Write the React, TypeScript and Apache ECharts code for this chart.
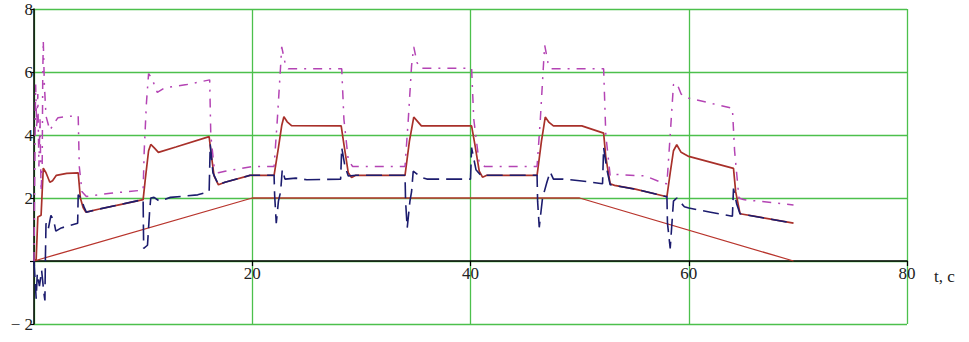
import React, { useEffect, useRef } from "react";
import * as echarts from "echarts";

// axis settings (Mathcad-style plot)
const xTicks = [0, 20, 40, 60, 80];
const yTicks = [-2, 0, 2, 4, 6, 8];

// setpoint ramp (red, solid)
const setpoint: [number, number][] = [
  [0, 0], [20, 2], [50, 2], [69.6, 0],
];

// main response (dark red, solid)
const response: [number, number][] = [
  [0, 0], [0.2, 0.05], [0.35, 1.4], [0.65, 1.45], [0.75, 2.2], [0.85, 2.95], [1.1, 2.8], [1.45, 2.5],
  [1.7, 2.55], [2.05, 2.72], [3.0, 2.78], [4.05, 2.8], [4.25, 2.0], [4.5, 1.7], [4.75, 1.55],
  [6, 1.65], [8, 1.8], [10.0, 1.95], [10.2, 2.6], [10.5, 3.5], [10.7, 3.7], [11.0, 3.6],
  [11.4, 3.45], [13, 3.62], [16.05, 3.95], [16.2, 3.5], [16.5, 2.7], [16.9, 2.42], [17.5, 2.5],
  [19.8, 2.72], [22.0, 2.72], [22.4, 3.6], [22.7, 4.3], [22.9, 4.58], [23.2, 4.42], [23.6, 4.3],
  [28.15, 4.29], [28.4, 3.7], [28.8, 2.8], [29.1, 2.65], [29.5, 2.72], [34.0, 2.72], [34.4, 3.8],
  [34.8, 4.57], [35.1, 4.45], [35.5, 4.29], [40.1, 4.29], [40.4, 3.7], [40.8, 2.85], [41.1, 2.66],
  [41.5, 2.72], [46.1, 2.72], [46.5, 3.8], [46.85, 4.57], [47.2, 4.4], [47.6, 4.29], [50.2, 4.29],
  [52.2, 4.06], [52.4, 3.3], [52.8, 2.45], [53.2, 2.4], [55.1, 2.28], [58.0, 2.04], [58.3, 2.8],
  [58.6, 3.5], [58.9, 3.69], [59.3, 3.45], [60.0, 3.32], [64.1, 2.94], [64.3, 2.2], [64.7, 1.5],
  [69.6, 1.2],
];

// second variable (navy, dashed)
const navy: [number, number][] = [
  [0, 0], [0.1, -0.6], [0.2, -1.2], [0.3, -0.4], [0.5, -0.8], [0.7, -0.3], [0.9, -1.0], [1.0, -1.25],
  [1.05, 0.2], [1.1, 1.2], [1.3, 1.0], [1.55, 1.45], [1.8, 1.3], [2.0, 0.95], [2.5, 1.05], [4.0, 1.2],
  [4.05, 2.1], [4.3, 2.0], [4.6, 1.7], [4.8, 1.55], [6, 1.65], [8, 1.8], [10.0, 1.95], [10.05, 0.4],
  [10.4, 0.5], [10.6, 1.6], [10.7, 2.0], [11.0, 2.02], [11.5, 1.9], [12.5, 2.02], [15, 2.1],
  [16.05, 2.2], [16.15, 3.7], [16.4, 2.8], [16.9, 2.42], [17.5, 2.5], [19.8, 2.72], [22.0, 2.72],
  [22.05, 2.1], [22.2, 1.2], [22.4, 1.9], [22.6, 2.2], [22.75, 2.9], [23.0, 2.6], [24, 2.63],
  [25, 2.58], [28.1, 2.6], [28.2, 3.6], [28.5, 3.0], [28.8, 2.7], [29.5, 2.72], [34.0, 2.72],
  [34.05, 1.9], [34.2, 1.05], [34.45, 1.9], [34.6, 2.2], [34.75, 2.85], [35.5, 2.65], [36, 2.6],
  [40.0, 2.6], [40.1, 3.6], [40.5, 2.9], [41.0, 2.7], [41.5, 2.72], [46.1, 2.72], [46.15, 1.9],
  [46.3, 1.07], [46.6, 2.0], [47.0, 2.5], [47.3, 2.83], [47.6, 2.6], [48.5, 2.6], [50, 2.55],
  [52.1, 2.45], [52.2, 3.6], [52.5, 2.9], [52.8, 2.42], [55.1, 2.28], [58.0, 2.04], [58.05, 1.2],
  [58.3, 0.4], [58.6, 1.9], [58.9, 2.0], [59.6, 1.72], [60, 1.68], [62, 1.55], [64.0, 1.42],
  [64.1, 2.3], [64.4, 1.8], [64.7, 1.5], [69.6, 1.2],
];

// third variable (magenta, dash-dot)
const magenta: [number, number][] = [
  [0, 0], [0.05, 2.0], [0.1, 4.0], [0.15, 5.6], [0.25, 4.2], [0.35, 5.3], [0.45, 3.0], [0.55, 4.5],
  [0.65, 2.2], [0.75, 3.0], [0.8, 5.8], [0.85, 7.0], [0.95, 5.6], [1.1, 4.6], [1.45, 4.15],
  [1.8, 4.35], [2.2, 4.55], [3.5, 4.6], [4.05, 4.62], [4.15, 3.0], [4.4, 2.2], [4.8, 2.05],
  [7, 2.15], [10.0, 2.25], [10.1, 3.5], [10.3, 5.0], [10.5, 5.95], [10.8, 5.8], [11.3, 5.35],
  [12, 5.5], [14, 5.6], [16.1, 5.75], [16.2, 4.0], [16.5, 3.0], [16.9, 2.8], [17.5, 2.85],
  [20, 3.0], [22.0, 3.0], [22.3, 4.5], [22.6, 6.2], [22.7, 6.8], [23.0, 6.3], [23.3, 6.1],
  [28.2, 6.1], [28.4, 4.5], [28.8, 3.2], [29.2, 3.0], [34.0, 3.0], [34.3, 4.5], [34.6, 6.2],
  [34.8, 6.8], [35.1, 6.3], [35.4, 6.12], [40.1, 6.12], [40.3, 4.5], [40.8, 3.1], [41.3, 3.0],
  [46.1, 3.0], [46.4, 4.5], [46.7, 6.3], [46.8, 6.85], [47.1, 6.3], [47.4, 6.1], [52.2, 6.1],
  [52.4, 4.0], [52.8, 2.7], [53.2, 2.75], [56, 2.7], [57.6, 2.48], [58.0, 2.45], [58.3, 4.0],
  [58.6, 5.6], [58.9, 5.65], [59.3, 5.3], [60.0, 5.17], [64.0, 4.85], [64.2, 3.5], [64.6, 2.0],
  [65, 1.95], [69.6, 1.78],
];

const serif = "'Liberation Serif', 'DejaVu Serif', serif";
const GRID_H = 315;
const zeroOffset = -(GRID_H * (0 - yTicks[0])) / (yTicks[yTicks.length - 1] - yTicks[0]);

export default function App() {
  const ref = useRef<HTMLDivElement>(null);
  useEffect(() => {
    const chart = echarts.init(ref.current!, null, { renderer: "svg" });
    chart.setOption({
      animation: false,
      backgroundColor: "#ffffff",
      grid: { left: 34, top: 9, width: 873, height: GRID_H, containLabel: false },
      xAxis: {
        type: "value",
        position: "bottom",
        offset: zeroOffset,
        min: xTicks[0],
        max: xTicks[xTicks.length - 1],
        interval: 20,
        name: "t, c",
        nameLocation: "end",
        nameGap: 27,
        nameTextStyle: { fontFamily: serif, fontSize: 17, color: "#222", verticalAlign: "top", padding: [7, 0, 0, 0] },
        axisLine: { onZero: false, lineStyle: { color: "#000", width: 1.5 } },
        axisTick: { show: true, length: 5, lineStyle: { color: "#000", width: 1.2 } },
        axisLabel: {
          formatter: (v: number) => (v === 0 ? "" : String(v)),
          fontFamily: serif,
          fontSize: 17,
          color: "#222",
          margin: 4,
        },
        splitLine: { show: true, lineStyle: { color: "#4cc04c", width: 1.3 } },
      },
      yAxis: {
        type: "value",
        min: yTicks[0],
        max: yTicks[yTicks.length - 1],
        interval: 2,
        axisLine: { show: true, onZero: false, lineStyle: { color: "#000", width: 1.5 } },
        axisTick: { show: true, length: 4, lineStyle: { color: "#000", width: 1.2 } },
        axisLabel: {
          formatter: (v: number) => (v === 0 ? "" : v < 0 ? "\u2212 " + Math.abs(v) : String(v)),
          fontFamily: serif,
          fontSize: 17,
          color: "#222",
          margin: 1,
        },
        splitLine: { show: true, lineStyle: { color: "#4cc04c", width: 1.3 } },
      },
      series: [
        {
          name: "setpoint",
          type: "line",
          data: setpoint,
          symbol: "none",
          lineStyle: { color: "#b8342c", width: 1.3 },
          z: 2,
        },
        {
          name: "response",
          type: "line",
          data: response,
          symbol: "none",
          lineStyle: { color: "#a8302a", width: 1.7 },
          z: 3,
        },
        {
          name: "magenta",
          type: "line",
          data: magenta,
          symbol: "none",
          lineStyle: { color: "#b444b4", width: 1.5, type: [9, 7, 2, 7] },
          z: 4,
        },
        {
          name: "navy",
          type: "line",
          data: navy,
          symbol: "none",
          lineStyle: { color: "#1c1c6e", width: 1.6, type: [16, 7] },
          z: 5,
        },
      ],
    });
    return () => chart.dispose();
  }, []);
  return (
    <div
      ref={ref}
      style={{ position: "fixed", left: 0, top: 0, width: 969, height: 342, background: "#fff" }}
    />
  );
}
